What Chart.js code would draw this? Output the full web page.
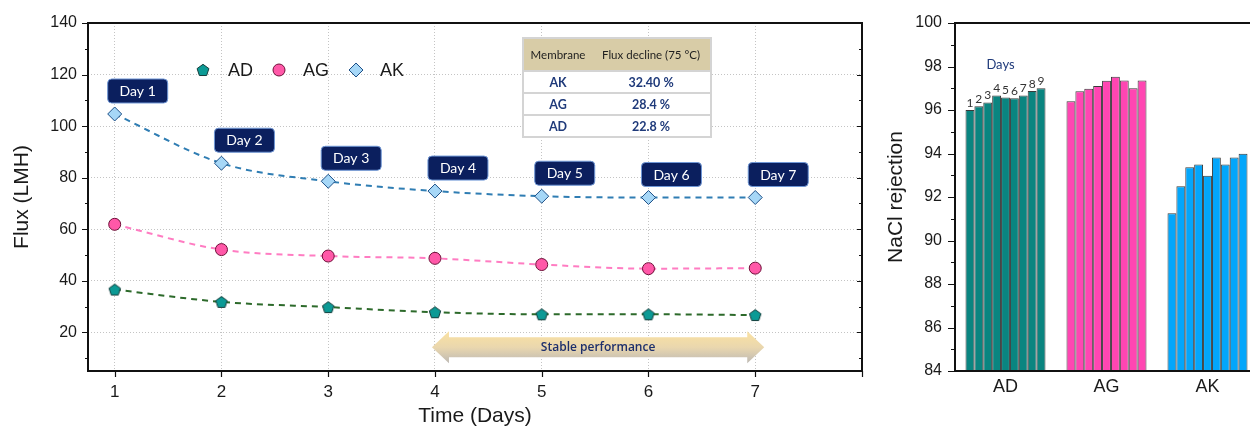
<!DOCTYPE html>
<html>
<head>
<meta charset="utf-8">
<script src="https://cdn.jsdelivr.net/npm/chart.js@4.4.1/dist/chart.umd.min.js"></script>
<style>
  html, body { margin: 0; padding: 0; background: #fff; overflow: hidden; width: 1250px; height: 429px; }
  #flux { position: absolute; left: 0; top: 0; }
  #rej  { position: absolute; left: 870px; top: 0; }
</style>
</head>
<body>
<canvas id="flux" width="870" height="429"></canvas>
<canvas id="rej" width="390" height="429"></canvas>
<script>
// ---- Flux over time (LMH) ----
const days = [1, 2, 3, 4, 5, 6, 7];
const fluxAD = [36.6, 31.8, 29.8, 27.8, 27.0, 27.0, 26.7];
const fluxAG = [61.9, 52.1, 49.6, 48.7, 46.3, 44.7, 44.9];
const fluxAK = [104.7, 85.6, 78.6, 74.8, 72.8, 72.3, 72.3];
const fluxTicks = [20, 40, 60, 80, 100, 120, 140];
const fluxMinorTicks = [10, 30, 50, 70, 90, 110, 130];

// ---- Flux decline table ----
const declineHeader = ['Membrane', 'Flux decline (75 °C)'];
const declineMembranes = ['AK', 'AG', 'AD'];
const declineValues = ['32.40 %', '28.4 %', '22.8 %'];

// ---- NaCl rejection per run day ----
const membranes = ['AD', 'AG', 'AK'];
const runDays = [1, 2, 3, 4, 5, 6, 7, 8, 9];
const rejAD = [96.0, 96.17, 96.34, 96.67, 96.58, 96.54, 96.67, 96.87, 97.0];
const rejAG = [96.4, 96.86, 96.98, 97.1, 97.35, 97.53, 97.36, 97.0, 97.36];
const rejAK = [91.25, 92.49, 93.37, 93.49, 92.98, 93.82, 93.49, 93.82, 93.99];
const rejTicks = [84, 86, 88, 90, 92, 94, 96, 98, 100];
const rejMinorTicks = [85, 87, 89, 91, 93, 95, 97, 99];

const SANS = '"Liberation Sans", Arial, sans-serif';
const HUMAN = 'Lato, "Open Sans", sans-serif';
const INK = '#1a1a1a';
const NAVY = '#0b1f5e';

const STYLE = {
  AD: { line: '#2d6a2b', fill: '#0c9a95', edge: '#153d3b' },
  AG: { line: '#ff7cc2', fill: '#ff58a8', edge: '#6e1038' },
  AK: { line: '#2f7db3', fill: '#a6d7f7', edge: '#1d4f86' }
};

Chart.defaults.font.family = SANS;
Chart.defaults.color = INK;

function tracePentagon(g, x, y, r) {
  g.beginPath();
  for (let i = 0; i < 5; i++) {
    const a = -Math.PI / 2 + i * 2 * Math.PI / 5;
    const px = x + r * Math.cos(a), py = y + r * Math.sin(a);
    if (i) g.lineTo(px, py); else g.moveTo(px, py);
  }
  g.closePath();
}

function pentagonImage(r, fill, edge) {
  const c = document.createElement('canvas');
  const s = Math.ceil(r * 2 + 4);
  c.width = c.height = s;
  const g = c.getContext('2d');
  tracePentagon(g, s / 2, s / 2 + 0.6, r);
  g.fillStyle = fill; g.fill();
  g.lineWidth = 1; g.strokeStyle = edge; g.stroke();
  return c;
}

function roundRectPath(g, x, y, w, h, r) {
  g.beginPath();
  g.moveTo(x + r, y);
  g.lineTo(x + w - r, y); g.quadraticCurveTo(x + w, y, x + w, y + r);
  g.lineTo(x + w, y + h - r); g.quadraticCurveTo(x + w, y + h, x + w - r, y + h);
  g.lineTo(x + r, y + h); g.quadraticCurveTo(x, y + h, x, y + h - r);
  g.lineTo(x, y + r); g.quadraticCurveTo(x, y, x + r, y);
  g.closePath();
}

function lineSet(label, values, st, pointStyle, radius) {
  return {
    label,
    data: days.map((d, i) => ({ x: d, y: values[i] })),
    borderColor: st.line,
    borderWidth: 2,
    borderDash: [6, 5],
    cubicInterpolationMode: 'monotone',
    pointStyle,
    pointRadius: radius,
    pointBackgroundColor: st.fill,
    pointBorderColor: st.edge,
    pointBorderWidth: 1,
    fill: false
  };
}

const pentagon = pentagonImage(6, STYLE.AD.fill, STYLE.AD.edge);

// Frame, tick marks, legend, annotations for the flux panel
const fluxDecor = {
  id: 'fluxDecor',
  beforeDatasetsDraw(chart) {
    const g = chart.ctx, a = chart.chartArea;
    const xs = chart.scales.x, ys = chart.scales.y;
    g.save();
    // "Stable performance" double arrow
    const x0 = xs.getPixelForValue(4) - 3, x1 = xs.getPixelForValue(7) + 9;
    const yc = ys.getPixelForValue(14.2);
    const head = 17, hh = 16, sh = 10;
    const grad = g.createLinearGradient(0, yc - hh, 0, yc + hh);
    grad.addColorStop(0, '#fbe2a2');
    grad.addColorStop(0.5, '#ead7ae');
    grad.addColorStop(1, '#bdb9b4');
    g.beginPath();
    g.moveTo(x0, yc);
    g.lineTo(x0 + head, yc - hh); g.lineTo(x0 + head, yc - sh);
    g.lineTo(x1 - head, yc - sh); g.lineTo(x1 - head, yc - hh);
    g.lineTo(x1, yc);
    g.lineTo(x1 - head, yc + hh); g.lineTo(x1 - head, yc + sh);
    g.lineTo(x0 + head, yc + sh); g.lineTo(x0 + head, yc + hh);
    g.closePath();
    g.fillStyle = grad; g.fill();
    g.fillStyle = '#1d2f6b';
    g.font = '600 12px "Open Sans", sans-serif';
    g.textAlign = 'center'; g.textBaseline = 'middle';
    g.fillText('Stable performance', (x0 + x1) / 2, yc);
    g.restore();
  },
  afterDatasetsDraw(chart) {
    const g = chart.ctx, a = chart.chartArea;
    const xs = chart.scales.x, ys = chart.scales.y;
    g.save();

    // plot frame
    g.strokeStyle = '#111';
    g.lineWidth = 2;
    g.strokeRect(a.left, a.top, a.right - a.left, a.bottom - a.top);

    // tick marks
    g.lineWidth = 1.2;
    g.beginPath();
    fluxTicks.forEach(v => {
      const y = Math.round(ys.getPixelForValue(v)) + 0.5;
      g.moveTo(a.left - 6, y); g.lineTo(a.left, y);
      g.moveTo(a.right, y); g.lineTo(a.right - 5, y);
    });
    fluxMinorTicks.forEach(v => {
      const y = Math.round(ys.getPixelForValue(v)) + 0.5;
      g.moveTo(a.left - 3, y); g.lineTo(a.left, y);
      g.moveTo(a.right, y); g.lineTo(a.right - 3, y);
    });
    days.concat([8]).forEach(v => {
      const x = Math.round(xs.getPixelForValue(v)) + 0.5;
      g.moveTo(x, a.bottom); g.lineTo(x, a.bottom + 6);
    });
    g.stroke();

    // legend
    const ly = a.top + 47;
    const lx = a.left;
    g.font = '18px ' + SANS;
    g.fillStyle = INK; g.textAlign = 'left'; g.textBaseline = 'middle';
    // AD
    tracePentagon(g, lx + 115, ly + 0.5, 6.2);
    g.fillStyle = STYLE.AD.fill; g.fill();
    g.strokeStyle = STYLE.AD.edge; g.lineWidth = 1; g.stroke();
    g.fillStyle = INK; g.fillText('AD', lx + 140, ly + 1);
    // AG
    g.beginPath(); g.arc(lx + 191, ly, 6, 0, Math.PI * 2);
    g.fillStyle = STYLE.AG.fill; g.fill(); g.strokeStyle = STYLE.AG.edge; g.stroke();
    g.fillStyle = INK; g.fillText('AG', lx + 215, ly + 1);
    // AK
    g.beginPath();
    g.moveTo(lx + 268, ly - 7); g.lineTo(lx + 275, ly); g.lineTo(lx + 268, ly + 7); g.lineTo(lx + 261, ly);
    g.closePath();
    g.fillStyle = STYLE.AK.fill; g.fill(); g.strokeStyle = STYLE.AK.edge; g.stroke();
    g.fillStyle = INK; g.fillText('AK', lx + 292, ly + 1);

    // day callouts above the AK points
    const akMeta = chart.getDatasetMeta(2);
    g.font = '14px ' + HUMAN;
    days.forEach((d, i) => {
      const p = akMeta.data[i];
      const bx = p.x - 7, by = p.y - 11 - 24;
      roundRectPath(g, bx, by, 60, 24, 4);
      g.fillStyle = NAVY; g.fill();
      g.lineWidth = 1; g.strokeStyle = '#6f97d6'; g.stroke();
      g.fillStyle = '#fff'; g.textAlign = 'center'; g.textBaseline = 'middle';
      g.fillText('Day ' + d, bx + 30, by + 12.5);
    });

    // flux decline table
    const tx = 523, ty = 38, tw = 188, hh = 33, rh = 22, c1 = 558, c2 = 651;
    g.fillStyle = '#fff';
    g.fillRect(tx, ty, tw, hh + rh * 3);
    g.fillStyle = '#d8cca7';
    g.fillRect(tx, ty, tw, hh);
    g.strokeStyle = '#d4d4d4'; g.lineWidth = 2;
    g.strokeRect(tx, ty, tw, hh + rh * 3);
    g.beginPath();
    for (let r = 0; r < 3; r++) { g.moveTo(tx, ty + hh + r * rh); g.lineTo(tx + tw, ty + hh + r * rh); }
    g.stroke();
    g.fillStyle = '#1e1e1e'; g.textAlign = 'center'; g.textBaseline = 'middle';
    g.font = '11.5px ' + HUMAN;
    g.fillText(declineHeader[0], c1, ty + hh / 2 + 1);
    g.fillText(declineHeader[1], c2, ty + hh / 2 + 1);
    g.fillStyle = '#1f3a7a'; g.font = 'bold 12.5px ' + HUMAN;
    declineMembranes.forEach((m, r) => {
      const y = ty + hh + r * rh + rh / 2 + 1;
      g.fillText(m, c1, y);
      g.fillText(declineValues[r], c2, y);
    });

    // axis titles
    g.fillStyle = INK;
    g.font = '21px ' + SANS;
    g.textAlign = 'center'; g.textBaseline = 'middle';
    g.fillText('Time (Days)', (a.left + a.right) / 2, 416);
    g.save();
    g.translate(22, (a.top + a.bottom) / 2);
    g.rotate(-Math.PI / 2);
    g.fillText('Flux (LMH)', 0, 0);
    g.restore();

    g.restore();
  }
};

new Chart(document.getElementById('flux'), {
  type: 'line',
  data: {
    datasets: [
      lineSet('AD', fluxAD, STYLE.AD, pentagon, 6),
      lineSet('AG', fluxAG, STYLE.AG, 'circle', 6),
      lineSet('AK', fluxAK, STYLE.AK, 'rectRot', 7)
    ]
  },
  options: {
    responsive: false,
    animation: false,
    events: [],
    layout: { padding: { top: 23, right: 6, left: 0, bottom: 0 } },
    plugins: { legend: { display: false }, tooltip: { enabled: false } },
    scales: {
      x: {
        type: 'linear', min: 0.75, max: 8,
        afterBuildTicks: s => { s.ticks = days.map(v => ({ value: v })); },
        afterFit: s => { s.height = 58; },
        grid: { color: '#c4c4c4', lineWidth: 1, drawTicks: false },
        border: { display: false, dash: [1, 2] },
        ticks: { padding: 11, color: INK, font: { size: 17 } }
      },
      y: {
        min: 5, max: 140,
        afterBuildTicks: s => { s.ticks = fluxTicks.map(v => ({ value: v })); },
        afterFit: s => { s.width = 88; },
        grid: { color: '#c4c4c4', lineWidth: 1, drawTicks: false },
        border: { display: false, dash: [1, 2] },
        ticks: { padding: 11, color: INK, font: { size: 16 } }
      }
    }
  },
  plugins: [fluxDecor]
});

// ---- NaCl rejection bar panel ----
const membraneColours = ['#0a8580', '#ff46b2', '#03a6fb'];

const rejDecor = {
  id: 'rejDecor',
  afterDatasetsDraw(chart) {
    const g = chart.ctx, a = chart.chartArea;
    const ys = chart.scales.y, xs = chart.scales.x;
    g.save();
    g.strokeStyle = '#111'; g.lineWidth = 2;
    g.beginPath();
    g.moveTo(a.left, a.top); g.lineTo(a.left, a.bottom);
    g.moveTo(a.left - 1, a.bottom); g.lineTo(a.right + 4, a.bottom);
    g.moveTo(a.left - 1, a.top); g.lineTo(a.right + 4, a.top);
    g.stroke();
    g.lineWidth = 1.2;
    g.beginPath();
    rejTicks.forEach(v => {
      const y = Math.round(ys.getPixelForValue(v)) + 0.5;
      g.moveTo(a.left - 7, y); g.lineTo(a.left, y);
    });
    rejMinorTicks.forEach(v => {
      const y = Math.round(ys.getPixelForValue(v)) + 0.5;
      g.moveTo(a.left - 4, y); g.lineTo(a.left, y);
    });
    g.stroke();

    // run-day numbers over the AD bars
    g.fillStyle = '#333'; g.font = '12px ' + HUMAN;
    g.textAlign = 'center'; g.textBaseline = 'bottom';
    runDays.forEach((d, i) => {
      const bar = chart.getDatasetMeta(i).data[0];
      g.fillText(String(d), bar.x, bar.y - 1);
    });
    g.fillStyle = '#1f3a7a'; g.font = '13px ' + HUMAN; g.textBaseline = 'middle';
    g.fillText('Days', xs.getPixelForValue(0) - 5, ys.getPixelForValue(98.1));

    // y title
    g.fillStyle = INK; g.font = '21px ' + SANS;
    g.translate(26, (a.top + a.bottom) / 2);
    g.rotate(-Math.PI / 2);
    g.fillText('NaCl rejection', 0, 0);
    g.restore();
  }
};

new Chart(document.getElementById('rej'), {
  type: 'bar',
  data: {
    labels: membranes,
    datasets: runDays.map((d, i) => ({
      label: 'Day ' + d,
      data: [rejAD[i], rejAG[i], rejAK[i]],
      backgroundColor: membraneColours,
      borderColor: '#3a3a3a',
      borderWidth: 1,
      categoryPercentage: 0.792,
      barPercentage: 1.0
    }))
  },
  options: {
    responsive: false,
    animation: false,
    events: [],
    layout: { padding: { top: 23, right: 2, left: 0, bottom: 0 } },
    plugins: { legend: { display: false }, tooltip: { enabled: false } },
    scales: {
      x: {
        afterFit: s => { s.height = 58; },
        grid: { display: false, drawTicks: false },
        border: { display: false },
        ticks: { padding: 5, color: INK, font: { size: 18 } }
      },
      y: {
        min: 84, max: 100,
        afterBuildTicks: s => { s.ticks = rejTicks.map(v => ({ value: v })); },
        afterFit: s => { s.width = 85; },
        grid: { display: false, drawTicks: false },
        border: { display: false },
        ticks: { padding: 13, color: INK, font: { size: 16 } }
      }
    }
  },
  plugins: [rejDecor]
});
</script>
</body>
</html>
